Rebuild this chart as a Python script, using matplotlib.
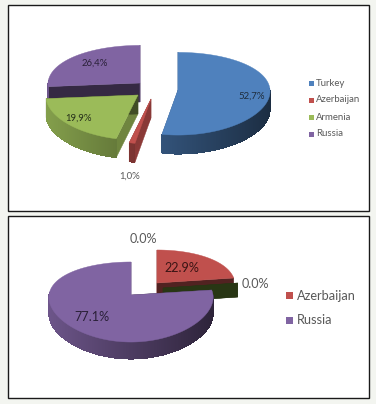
import numpy as np
import matplotlib
matplotlib.use("Agg")
import matplotlib.pyplot as plt
from matplotlib.patches import Polygon, Rectangle

plt.rcParams['font.family'] = ['Lato', 'DejaVu Sans']

# upper chart
names_a = ["Turkey", "Azerbaijan", "Armenia", "Russia"]
values_a = [52.7, 1.0, 19.9, 26.4]
colors_a = ["#4f81bd", "#c0504d", "#9bbb59", "#8064a2"]

# lower chart
names_b = ["Turkey", "Azerbaijan", "Armenia", "Russia"]
values_b = [0.0, 22.9, 0.0, 77.1]
colors_b = ["#4f81bd", "#c0504d", "#5f7f30", "#8064a2"]
legend_b = ["Azerbaijan", "Russia"]
legend_colors_b = ["#c0504d", "#8064a2"]


def shade(color, f):
    return tuple(c * f for c in matplotlib.colors.to_rgb(color))


def project(apex, theta, rx, ry, k):
    u = np.sin(theta)
    v = np.cos(theta)
    return (apex[0] + rx * u / (1 + k / 3 * v),
            apex[1] - ry * v / (1 + k * v))


def wedge(ax, apex, a0, a1, color, rx, ry, k, depth):
    """one slice, angles in degrees clockwise from 12 o'clock"""
    th = np.radians(np.linspace(a0, a1, max(int(a1 - a0) * 2, 2)))
    x, y = project(apex, th, rx, ry, k)

    # radial walls
    for xe, ye in ((x[0], y[0]), (x[-1], y[-1])):
        d = np.hypot(xe - apex[0], ye - apex[1])
        f = 0.4 + 0.35 * abs(ye - apex[1]) / d
        ax.add_patch(Polygon([apex, (xe, ye), (xe, ye + depth), (apex[0], apex[1] + depth)],
                             closed=True, fc=shade(color, f), ec=shade(color, f), lw=0.3))

    # outer wall, lighter on the left and dark on the right
    for i in range(len(th) - 1):
        if np.cos(th[i]) > 0.05:
            continue
        u = np.sin(th[i])
        f = 0.85 - 0.5 * (u + 1) / 2
        ax.add_patch(Polygon([(x[i], y[i]), (x[i + 1], y[i + 1]),
                              (x[i + 1], y[i + 1] + depth), (x[i], y[i] + depth)],
                             closed=True, fc=shade(color, f), ec="none", lw=0,
                             antialiased=False))

    # top face
    if a1 > a0:
        ax.add_patch(Polygon([apex] + list(zip(x, y)), closed=True, fc=color,
                             ec=color, lw=0.3))


def angles(values):
    edges = np.concatenate([[0], np.cumsum(values)]) * 3.6
    return edges[:-1], edges[1:]


fig = plt.figure(figsize=(3.76, 4.04), dpi=100, facecolor="#f3f5f0")
ax = fig.add_axes([0, 0, 1, 1])
ax.set_xlim(0, 376)
ax.set_ylim(404, 0)
ax.axis("off")

# panels
ax.add_patch(Rectangle((7.5, 4.5), 361, 206, fc="white", ec="#1a1a1a", lw=1.0))
ax.add_patch(Rectangle((7.5, 216), 361, 182, fc="white", ec="#1a1a1a", lw=1.0))

# upper pie, back slices first
a0, a1 = angles(values_a)
apex_a = [(178, 90), (151, 99), (138, 95), (140, 83)]
for i in [3, 2, 1, 0]:
    wedge(ax, apex_a[i], a0[i], a1[i], colors_a[i], 92, 41, 0.09, 19)

label_pos_a = [(252, 96), (130, 176), (79, 118), (95, 63)]
label_col_a = ["#1f2d3d", "#595959", "#26301a", "#2a2038"]
for v, p, c in zip(values_a, label_pos_a, label_col_a):
    ax.text(p[0], p[1], f"{v:.1f}%".replace(".", ","), ha="center", va="center",
            fontsize=6.9, color=c)

legend_y_a = [83, 100, 117, 134]
for n, c, ly in zip(names_a, colors_a, legend_y_a):
    ax.add_patch(Rectangle((309, ly - 2.5), 5, 5, fc=c, ec="none"))
    ax.text(316, ly, n, ha="left", va="center", fontsize=6.9, color="#595959")

# lower pie
b0, b1 = angles(values_b)
apex_b = [(157, 285), (157, 283), (163, 288), (131, 295)]
radii_b = [80, 78, 76, 82]
for i in [1, 2, 3]:
    wedge(ax, apex_b[i], b0[i], b1[i], colors_b[i], radii_b[i], 38.8, 0.175, 17 if i == 3 else 14)

label_pos_b = [(143, 239), (182, 268), (255, 284), (92, 317)]
label_col_b = ["#595959", "#3a1414", "#595959", "#2a2038"]
for v, p, c in zip(values_b, label_pos_b, label_col_b):
    ax.text(p[0], p[1], f"{v:.1f}%", ha="center", va="center", fontsize=9.1, color=c)

legend_y_b = [295.5, 320]
for n, c, ly in zip(legend_b, legend_colors_b, legend_y_b):
    ax.add_patch(Rectangle((286, ly - 3.5), 7, 7, fc=c, ec="none"))
    ax.text(297, ly, n, ha="left", va="center", fontsize=9.2, color="#595959")

fig.savefig("out.png", dpi=100, facecolor=fig.get_facecolor())
